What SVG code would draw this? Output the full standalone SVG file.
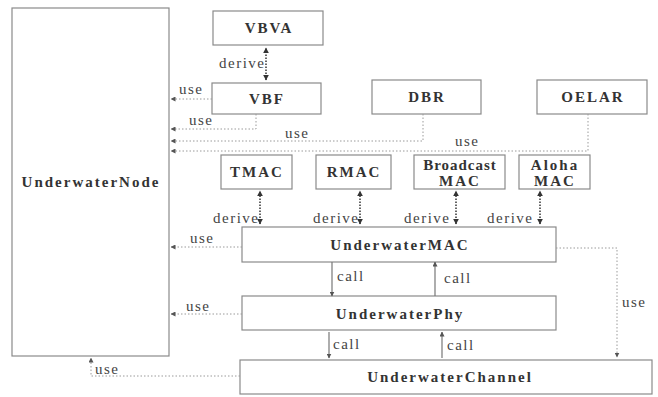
<svg xmlns="http://www.w3.org/2000/svg" width="658" height="397" viewBox="0 0 658 397" font-family="Liberation Serif, Times New Roman, DejaVu Serif, serif">
<style>
.box{fill:#fff;stroke:#8a8a8a;stroke-width:1.2}
.name{font-weight:bold;font-size:15px;letter-spacing:2px;fill:#333;text-anchor:middle}
.lbl{font-size:15px;letter-spacing:1.5px;fill:#444}
.use{fill:none;stroke:#9a9a9a;stroke-width:1;stroke-dasharray:1.5 2}
.der{fill:none;stroke:#333;stroke-width:1.5;stroke-dasharray:1.5 1.5}
.call{fill:none;stroke:#777;stroke-width:1.2}
</style>
<defs>
<marker id="ah" viewBox="0 0 10 10" refX="9" refY="5" markerWidth="5" markerHeight="5" markerUnits="userSpaceOnUse" orient="auto-start-reverse"><path d="M0,0 L10,5 L0,10 z" fill="#555"/></marker>
<marker id="ad" viewBox="0 0 10 10" refX="9" refY="5" markerWidth="6" markerHeight="6" markerUnits="userSpaceOnUse" orient="auto-start-reverse"><path d="M0,0 L10,5 L0,10 z" fill="#333"/></marker>
</defs>
<g id="UnderwaterNode"><rect class="box" x="12" y="8" width="157" height="348"/><text class="name" x="91" y="187" font-family="Liberation Serif">UnderwaterNode</text></g>
<g id="VBVA"><rect class="box" x="213" y="11" width="110" height="34"/><text class="name" x="269" y="33" font-family="Liberation Serif">VBVA</text></g>
<g id="VBF"><rect class="box" x="212" y="83" width="109" height="31"/><text class="name" x="267" y="103.5" font-family="Liberation Serif">VBF</text></g>
<g id="DBR"><rect class="box" x="372" y="80" width="109" height="34"/><text class="name" x="427" y="102" font-family="Liberation Serif">DBR</text></g>
<g id="OELAR"><rect class="box" x="537" y="80" width="110" height="34"/><text class="name" x="593" y="102" font-family="Liberation Serif">OELAR</text></g>
<g id="TMAC"><rect class="box" x="221" y="155" width="71" height="34"/><text class="name" x="257" y="177" font-family="Liberation Serif">TMAC</text></g>
<g id="RMAC"><rect class="box" x="316" y="155" width="75" height="34"/><text class="name" x="354" y="177" font-family="Liberation Serif">RMAC</text></g>
<g id="BroadcastMAC"><rect class="box" x="414" y="155" width="91" height="34"/><text class="name" x="460" y="170" style="letter-spacing:1px" font-family="Liberation Serif">Broadcast</text><text class="name" x="460" y="186" font-family="Liberation Serif">MAC</text></g>
<g id="AlohaMAC"><rect class="box" x="519" y="155" width="71" height="34"/><text class="name" x="555" y="170" font-family="Liberation Serif">Aloha</text><text class="name" x="555" y="186" font-family="Liberation Serif">MAC</text></g>
<g id="UnderwaterMAC"><rect class="box" x="242" y="227" width="314" height="35"/><text class="name" x="400" y="250" font-family="Liberation Serif">UnderwaterMAC</text></g>
<g id="UnderwaterPhy"><rect class="box" x="242" y="296" width="314" height="34"/><text class="name" x="400" y="318.5" font-family="Liberation Serif">UnderwaterPhy</text></g>
<g id="UnderwaterChannel"><rect class="box" x="240" y="360" width="412" height="34"/><text class="name" x="450" y="382" font-family="Liberation Serif">UnderwaterChannel</text></g>
<g id="connectors" font-family="Liberation Serif">
<path class="use" d="M212,99 H171" marker-end="url(#ah)"/>
<path class="use" d="M256,114 V129 H171" marker-end="url(#ah)"/>
<path class="use" d="M423,114 V141 H171" marker-end="url(#ah)"/>
<path class="use" d="M588,114 V151 H171" marker-end="url(#ah)"/>
<path class="use" d="M242,247 H171" marker-end="url(#ah)"/>
<path class="use" d="M242,314 H171" marker-end="url(#ah)"/>
<path class="use" d="M556,248 H617 V357" marker-end="url(#ah)"/>
<path class="use" d="M240,376 H91 V358" marker-end="url(#ah)"/>
<text class="lbl" x="179" y="94">use</text>
<text class="lbl" x="189" y="125">use</text>
<text class="lbl" x="285" y="138">use</text>
<text class="lbl" x="455" y="146">use</text>
<text class="lbl" x="190" y="243">use</text>
<text class="lbl" x="186" y="311">use</text>
<text class="lbl" x="622" y="307">use</text>
<text class="lbl" x="95" y="374">use</text>
<path class="der" d="M266,80 V48" marker-start="url(#ad)" marker-end="url(#ad)"/>
<path class="der" d="M260,224 V191" marker-start="url(#ad)" marker-end="url(#ad)"/>
<path class="der" d="M360,224 V191" marker-start="url(#ad)" marker-end="url(#ad)"/>
<path class="der" d="M456,224 V191" marker-start="url(#ad)" marker-end="url(#ad)"/>
<path class="der" d="M540,224 V191" marker-start="url(#ad)" marker-end="url(#ad)"/>
<text class="lbl" x="219" y="68">derive</text>
<text class="lbl" x="213" y="223">derive</text>
<text class="lbl" x="313" y="223">derive</text>
<text class="lbl" x="404" y="223">derive</text>
<text class="lbl" x="487" y="223">derive</text>
<path class="call" d="M332,262 V296" marker-end="url(#ah)"/>
<path class="call" d="M435,296 V262" marker-end="url(#ah)"/>
<path class="call" d="M329,332 V358" marker-end="url(#ah)"/>
<path class="call" d="M442,358 V332" marker-end="url(#ah)"/>
<text class="lbl" x="337" y="281">call</text>
<text class="lbl" x="444" y="283">call</text>
<text class="lbl" x="333" y="349">call</text>
<text class="lbl" x="447" y="350">call</text>
</g>
</svg>
